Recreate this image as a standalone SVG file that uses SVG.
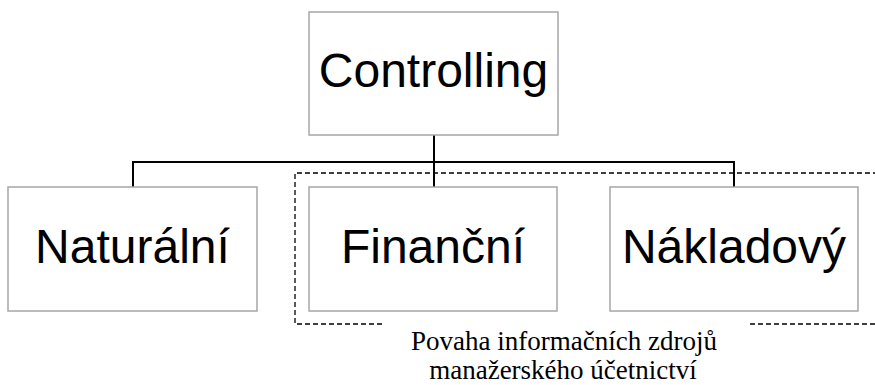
<svg xmlns="http://www.w3.org/2000/svg" width="875" height="385" viewBox="0 0 875 385">
<style>
.box{fill:#fff;stroke:#a6a6a6;stroke-width:1.5}
.lbl{font-family:"Liberation Sans",Arial,sans-serif;font-size:48px;fill:#000;text-anchor:middle}
.conn{fill:none;stroke:#000;stroke-width:2}
.dash{fill:none;stroke:#000;stroke-width:1.3;stroke-dasharray:5 3}
.cap{font-family:"Liberation Serif","Times New Roman",serif;font-size:27px;fill:#000;text-anchor:middle}
</style>
<rect width="875" height="385" fill="#fff"/>
<g id="connectors">
<path class="conn" d="M434 135V188M133 188V162H734V188"/>
</g>
<g id="group-frame">
<path class="dash" d="M382 324H295V173H875M750 324H875"/>
</g>
<g id="controlling"><rect class="box" x="309" y="12" width="249" height="123"/><text class="lbl" x="433.5" y="87">Controlling</text></g>
<g id="naturalni"><rect class="box" x="8" y="187" width="249" height="124"/><text class="lbl" x="132.5" y="263">Naturální</text></g>
<g id="financni"><rect class="box" x="309" y="187" width="248" height="124"/><text class="lbl" x="433" y="263">Finanční</text></g>
<g id="nakladovy"><rect class="box" x="610" y="187" width="248" height="124"/><text class="lbl" x="734" y="263">Nákladový</text></g>
<g id="caption"><text class="cap" x="564" y="350">Povaha informačních zdrojů</text><text class="cap" x="563" y="379">manažerského účetnictví</text></g>
</svg>
